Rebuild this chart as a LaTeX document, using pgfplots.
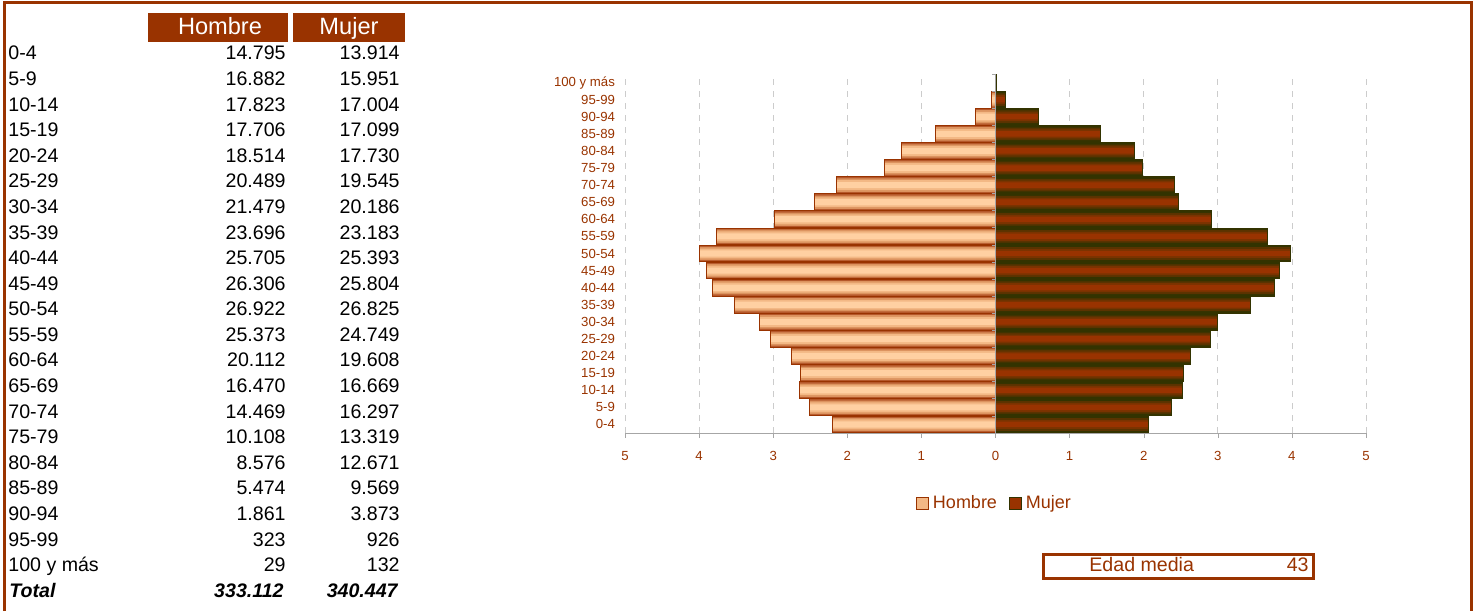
\documentclass[border=0pt]{standalone}
\usepackage{fontspec}
\setmainfont{Liberation Sans}
\usepackage{pgfplots}
\usepackage{pgfplotstable}
\pgfplotsset{compat=1.18}
\definecolor{brn}{HTML}{993300}
\definecolor{olv}{HTML}{333300}
\definecolor{hA}{HTML}{B5572A}
\definecolor{hB}{HTML}{DC935F}
\definecolor{hC}{HTML}{F3B885}
\definecolor{hD}{HTML}{FFD0A2}
\definecolor{mB}{HTML}{5A3300}
\definecolor{mC}{HTML}{7A3300}
\newcommand{\rowfont}{\fontsize{9.8}{11}\selectfont}
% share of the total population (%), by age group
\pgfplotstableread{
y  h        m
0  -2.1965  2.0657
1  -2.5064  2.3682
2  -2.6461  2.5245
3  -2.6287  2.5386
4  -2.7487  2.6323
5  -3.0419  2.9018
6  -3.1889  2.9969
7  -3.5180  3.4419
8  -3.8163  3.7700
9  -3.9055  3.8310
10 -3.9970  3.9826
11 -3.7670  3.6744
12 -2.9859  2.9111
13 -2.4452  2.4748
14 -2.1481  2.4195
15 -1.5007  1.9774
16 -1.2732  1.8812
17 -0.8127  1.4207
18 -0.2763  0.5750
19 -0.0480  0.1375
20 -0.0043  0.0196
}\pyr
\begin{document}
\begin{tikzpicture}
\path[use as bounding box] (0,0) rectangle (740.5pt,305.5pt);
% table, frame, box (1 unit = 1 px of the reference, y downwards)
\begin{scope}[x=0.5pt,y=-0.5pt,yshift=305.5pt]
  \draw[brn,line width=1.5pt] (4,611) -- (4,2.5) -- (1471.5,2.5) -- (1471.5,611);
  \fill[brn] (148,13) rectangle (288,42);
  \fill[brn] (293,13) rectangle (405,42);
  \node[anchor=base,inner sep=0,white,font=\fontsize{11.8}{13}\selectfont] at (220,35) {Hombre};
  \node[anchor=base,inner sep=0,white,font=\fontsize{11.8}{13}\selectfont] at (349,35) {Mujer};
  \foreach \lab/\h/\m [count=\i from 0] in {0-4/14.795/13.914,5-9/16.882/15.951,
      10-14/17.823/17.004,15-19/17.706/17.099,20-24/18.514/17.730,25-29/20.489/19.545,
      30-34/21.479/20.186,35-39/23.696/23.183,40-44/25.705/25.393,45-49/26.306/25.804,
      50-54/26.922/26.825,55-59/25.373/24.749,60-64/20.112/19.608,65-69/16.470/16.669,
      70-74/14.469/16.297,75-79/10.108/13.319,80-84/8.576/12.671,85-89/5.474/9.569,
      90-94/1.861/3.873,95-99/323/926,100 y más/29/132} {
    \node[anchor=base west,inner sep=0,font=\rowfont] at (8,{60+25.58*\i}) {\lab};
    \node[anchor=base east,inner sep=0,font=\rowfont] at (286,{60+25.58*\i}) {\h};
    \node[anchor=base east,inner sep=0,font=\rowfont] at (400,{60+25.58*\i}) {\m};
  }
  \node[anchor=base west,inner sep=0,font=\rowfont\bfseries\itshape] at (9,597) {Total};
  \node[anchor=base east,inner sep=0,font=\rowfont\bfseries\itshape] at (284,597) {333.112};
  \node[anchor=base east,inner sep=0,font=\rowfont\bfseries\itshape] at (398,597) {340.447};
  % Edad media
  \draw[brn,line width=1.5pt] (1043,554) rectangle (1313,578);
  \node[anchor=base west,inner sep=0,brn,font=\rowfont] at (1089,571) {Edad media};
  \node[anchor=base east,inner sep=0,brn,font=\rowfont] at (1309,571) {43};
\end{scope}

\begin{axis}[
  at={(312.5pt,89pt)}, anchor=south west,
  scale only axis, width=370.5pt, height=179.5pt,
  xmin=-5, xmax=5, ymin=-0.5, ymax=20.5,
  xtick={-5,...,5}, xticklabels={5,4,3,2,1,0,1,2,3,4,5},
  ytick={0,...,20},
  yticklabels={0-4,5-9,10-14,15-19,20-24,25-29,30-34,35-39,40-44,45-49,50-54,
    55-59,60-64,65-69,70-74,75-79,80-84,85-89,90-94,95-99,100 y más},
  axis x line*=bottom, axis y line*=left,
  x axis line style={gray!70,-},
  y axis line style={draw=none},
  ytick style={draw=none},
  xtick style={gray!70},
  tick align=outside, major tick length=2.5pt,
  xmajorgrids, grid style={gray!40,dash pattern=on 3pt off 3pt},
  ticklabel style={brn,font=\fontsize{6.6}{7}\selectfont},
  xticklabel style={yshift=-3pt},
  yticklabel style={xshift=1pt},
  bar shift=0pt,
  legend style={at={(0.5,-0.195)},anchor=center,draw=none,fill=none,
    legend columns=-1,font=\fontsize{9}{10}\selectfont,text=brn,
    /tikz/every even column/.append style={column sep=4pt}},
  legend image code/.code={\draw[#1] (0pt,-3pt) rectangle (6pt,3pt);},
]
% Hombre: bands from edge to centre
\addplot[forget plot,xbar,bar width=0.98,draw=none,fill=hA] table[x=h,y=y] {\pyr};
\addplot[forget plot,xbar,bar width=0.78,draw=none,fill=hB] table[x=h,y=y] {\pyr};
\addplot[forget plot,xbar,bar width=0.58,draw=none,fill=hC] table[x=h,y=y] {\pyr};
\addplot[forget plot,xbar,bar width=0.36,draw=none,fill=hD] table[x=h,y=y] {\pyr};
\addplot[forget plot,xbar,bar width=0.98,draw=brn,line width=0.5pt,fill=none] table[x=h,y=y] {\pyr};
% Mujer
\addplot[forget plot,xbar,bar width=0.98,draw=none,fill=olv] table[x=m,y=y] {\pyr};
\addplot[forget plot,xbar,bar width=0.74,draw=none,fill=mB] table[x=m,y=y] {\pyr};
\addplot[forget plot,xbar,bar width=0.52,draw=none,fill=mC] table[x=m,y=y] {\pyr};
\addplot[forget plot,xbar,bar width=0.32,draw=none,fill=brn] table[x=m,y=y] {\pyr};
\addplot[forget plot,xbar,bar width=0.98,draw=olv,line width=0.5pt,fill=none] table[x=m,y=y] {\pyr};
\addlegendimage{draw=brn,fill=hC}
\addlegendentry{Hombre}
\addlegendimage{draw=olv,fill=brn}
\addlegendentry{Mujer}
\draw[gray!70] (axis cs:0,-0.5) -- (axis cs:0,20.5);
\pgfplotsinvokeforeach{0,...,21}{\draw[gray!70] (axis cs:0,{#1-0.5}) -- ++(-2pt,0pt);}
\end{axis}
\end{tikzpicture}
\end{document}
